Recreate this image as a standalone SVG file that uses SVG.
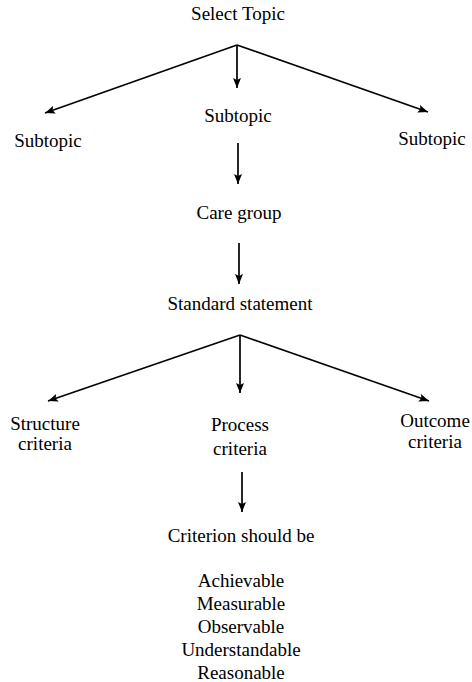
<svg xmlns="http://www.w3.org/2000/svg" width="472" height="682" viewBox="0 0 472 682">
<defs>
<marker id="ah" viewBox="0 0 10 8" refX="10" refY="4" markerWidth="11" markerHeight="8" markerUnits="userSpaceOnUse" orient="auto">
<path d="M0,0 L10,4 L0,8 L2,4 Z" fill="#000"/>
</marker>
</defs>
<style>
text{font-family:"Liberation Serif","Times New Roman",serif;font-size:19px;fill:#000;text-anchor:middle}
.c{stroke:#000;stroke-width:1.7;fill:none;marker-end:url(#ah)}
</style>
<rect width="472" height="682" fill="#fff"/>
<g id="connectors">
<line class="c" x1="237" y1="45" x2="45" y2="113"/>
<line class="c" x1="237" y1="45" x2="237" y2="88"/>
<line class="c" x1="237" y1="45" x2="428" y2="112"/>
<line class="c" x1="238" y1="143" x2="238" y2="184"/>
<line class="c" x1="239" y1="243" x2="239" y2="284"/>
<line class="c" x1="240" y1="335" x2="48" y2="401"/>
<line class="c" x1="240" y1="335" x2="240" y2="393"/>
<line class="c" x1="240" y1="335" x2="429" y2="401"/>
<line class="c" x1="242" y1="472" x2="242" y2="512"/>
</g>
<g id="select-topic"><text x="238" y="20">Select Topic</text></g>
<g id="subtopic-left"><text x="48" y="147">Subtopic</text></g>
<g id="subtopic-center"><text x="238" y="122">Subtopic</text></g>
<g id="subtopic-right"><text x="432" y="145">Subtopic</text></g>
<g id="care-group"><text x="239" y="219">Care group</text></g>
<g id="standard-statement"><text x="240" y="310">Standard statement</text></g>
<g id="structure-criteria"><text x="45" y="430">Structure</text><text x="45" y="450">criteria</text></g>
<g id="process-criteria"><text x="240" y="431">Process</text><text x="240" y="455">criteria</text></g>
<g id="outcome-criteria"><text x="435" y="427">Outcome</text><text x="435" y="448">criteria</text></g>
<g id="criterion"><text x="241" y="542">Criterion should be</text></g>
<g id="criterion-list">
<text x="241" y="587">Achievable</text>
<text x="241" y="610">Measurable</text>
<text x="241" y="633">Observable</text>
<text x="241" y="656">Understandable</text>
<text x="241" y="679">Reasonable</text>
</g>
</svg>
